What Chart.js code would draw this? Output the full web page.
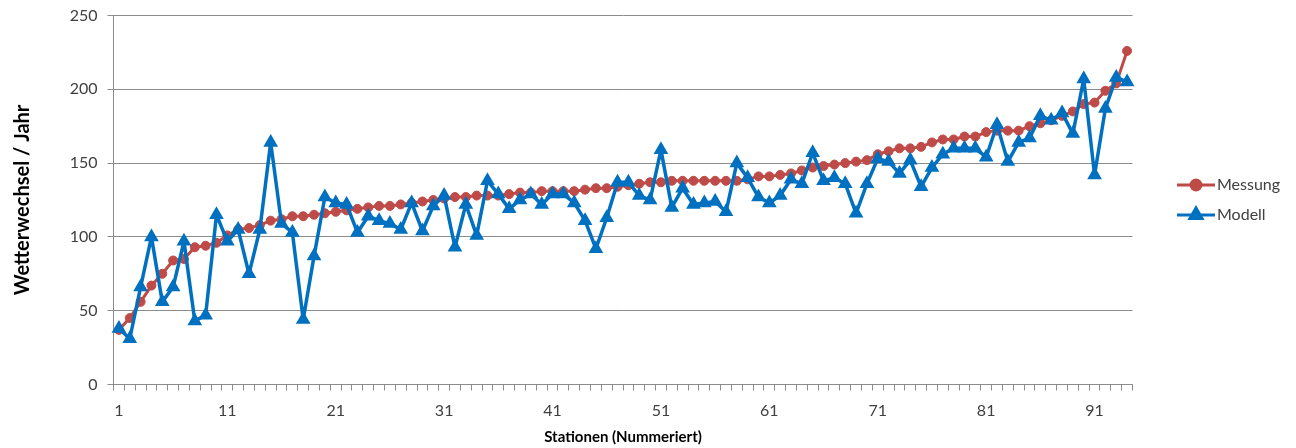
<!DOCTYPE html>
<html>
<head>
<meta charset="utf-8">
<script src="https://cdn.jsdelivr.net/npm/chart.js@4.4.1/dist/chart.umd.min.js"></script>
<style>
  html, body { margin: 0; padding: 0; background: #fff; }
  #wrap { width: 1296px; height: 448px; position: relative; }
</style>
</head>
<body>
<div id="wrap"><canvas id="chart" width="1296" height="448"></canvas></div>
<script>
// Stations 1..94
const stations = Array.from({ length: 94 }, (_, i) => String(i + 1));

// Measured weather changes per year (sorted ascending)
const messung = [
  37, 45, 56, 67, 75, 84, 85, 93, 94, 96,
  101, 105, 106, 108, 111, 112, 114, 114, 115, 116,
  117, 118, 119, 120, 121, 121, 122, 123, 124, 125,
  126, 127, 127, 128, 128, 128, 129, 130, 130, 131,
  131, 131, 131, 132, 133, 133, 134, 135, 136, 137,
  137, 138, 138, 138, 138, 138, 138, 138, 139, 141,
  141, 142, 143, 145, 147, 148, 149, 150, 151, 152,
  156, 158, 160, 160, 161, 164, 166, 166, 168, 168,
  171, 172, 172, 172, 175, 177, 179, 182, 185, 190,
  191, 199, 204, 226
];

// Model values
const modell = [
  38, 31, 66, 100, 56, 66, 97, 43, 47, 115,
  97, 105, 75, 105, 164, 109, 103, 44, 87, 127,
  123, 122, 103, 114, 111, 109, 105, 123, 104, 121,
  128, 93, 122, 101, 138, 129, 119, 125, 129, 122,
  129, 129, 123, 111, 92, 113, 137, 137, 128, 125,
  159, 120, 133, 122, 123, 124, 117, 150, 140, 127,
  123, 128, 139, 136, 157, 138, 140, 136, 116, 136,
  153, 151, 143, 152, 134, 147, 156, 160, 160, 160,
  154, 176, 151, 164, 167, 182, 179, 184, 170, 207,
  142, 187, 208, 205
];

const yTicks = [0, 50, 100, 150, 200, 250];

const RED = '#BE4B48';
const BLUE = '#0070C0';
const GRID = '#8C8C8C';
const TEXT = '#404040';
const FONT = 'Lato, "Open Sans", sans-serif';

// legend drawn like the Excel one: line with marker, then label
const legendPlugin = {
  id: 'excelLegend',
  afterDraw(chart) {
    const ctx = chart.ctx;
    const items = [
      { label: 'Messung', color: RED, style: 'circle', y: 185 },
      { label: 'Modell', color: BLUE, style: 'triangle', y: 215 }
    ];
    ctx.save();
    items.forEach(it => {
      ctx.strokeStyle = it.color;
      ctx.fillStyle = it.color;
      ctx.lineWidth = 3;
      ctx.beginPath();
      ctx.moveTo(1177, it.y);
      ctx.lineTo(1215, it.y);
      ctx.stroke();
      Chart.helpers.drawPoint(ctx, { pointStyle: it.style, radius: it.style === 'circle' ? 5 : 7, rotation: 0, borderWidth: 1 }, 1196, it.y);
      ctx.fill();
      ctx.fillStyle = TEXT;
      ctx.font = '16px ' + FONT;
      ctx.textBaseline = 'middle';
      ctx.textAlign = 'left';
      ctx.fillText(it.label, 1217, it.y);
    });
    ctx.restore();
  }
};

new Chart(document.getElementById('chart'), {
  type: 'line',
  data: {
    labels: stations,
    datasets: [
      {
        label: 'Messung',
        data: messung,
        borderColor: RED,
        backgroundColor: RED,
        borderWidth: 3,
        borderJoinStyle: 'round',
        pointStyle: 'circle',
        pointRadius: 4.5,
        pointBorderWidth: 1,
        tension: 0,
        order: 2
      },
      {
        label: 'Modell',
        data: modell,
        borderColor: BLUE,
        backgroundColor: BLUE,
        borderWidth: 3.5,
        borderJoinStyle: 'round',
        pointStyle: 'triangle',
        pointRadius: 7,
        pointBorderWidth: 1.5,
        tension: 0,
        order: 1
      }
    ]
  },
  options: {
    responsive: false,
    animation: false,
    layout: { padding: { top: 15.5, right: 163.5, left: 0, bottom: 0 } },
    plugins: {
      legend: { display: false },
      tooltip: { enabled: false }
    },
    scales: {
      x: {
        type: 'category',
        offset: true,
        afterFit: s => { s.height = 63.5; },
        grid: {
          display: true,
          offset: true,
          drawOnChartArea: false,
          drawTicks: true,
          tickLength: 6,
          color: GRID
        },
        border: { display: true, color: GRID, width: 1 },
        ticks: {
          autoSkip: false,
          maxRotation: 0,
          padding: 11,
          color: TEXT,
          font: { family: FONT, size: 16 },
          callback: (v, i) => (i % 10 === 0 ? stations[i] : '')
        },
        title: {
          display: true,
          text: 'Stationen (Nummeriert)',
          color: '#000',
          font: { family: FONT, size: 15, weight: 'bold' },
          padding: { top: 0, bottom: 2 }
        }
      },
      y: {
        min: 0,
        max: 250,
        afterFit: s => { s.width = 113.5; s.paddingTop = 0; s.paddingBottom = 0; },
        afterBuildTicks: s => { s.ticks = yTicks.map(v => ({ value: v })); },
        grid: {
          color: GRID,
          drawTicks: true,
          tickLength: 6
        },
        border: { display: true, color: GRID, width: 1 },
        ticks: {
          padding: 10,
          color: TEXT,
          font: { family: FONT, size: 16 }
        },
        title: {
          display: true,
          text: 'Wetterwechsel / Jahr',
          color: '#000',
          font: { family: FONT, size: 20, weight: 'bold' },
          padding: { top: 11, bottom: 0 }
        }
      }
    }
  },
  plugins: [legendPlugin]
});
</script>
</body>
</html>
